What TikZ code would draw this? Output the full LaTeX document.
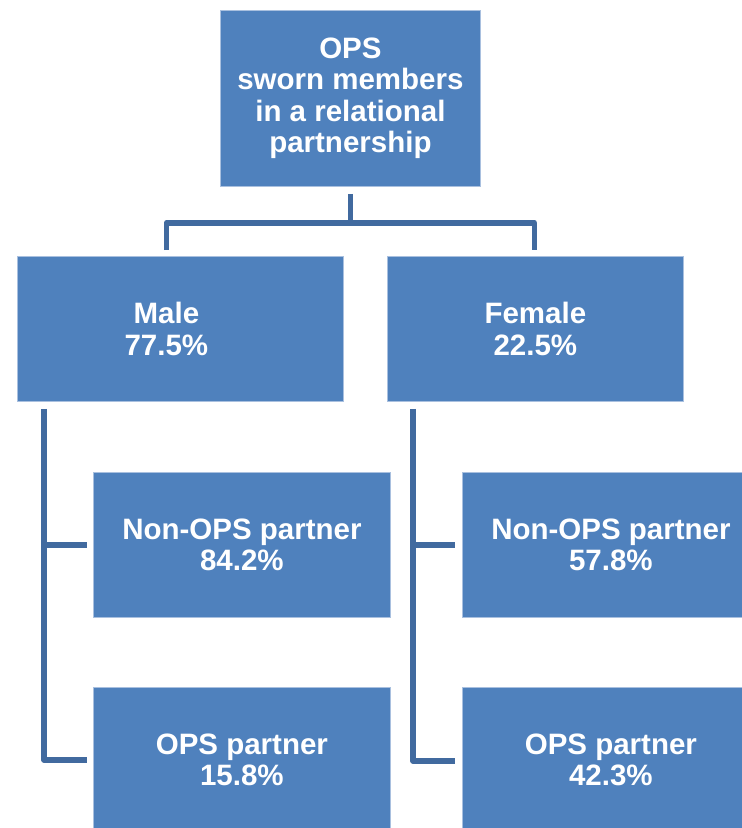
\documentclass[tikz,border=0pt]{standalone}
\usepackage{fontspec}
\setmainfont{Liberation Sans}
\definecolor{boxfill}{HTML}{4F81BD}
\definecolor{boxedge}{HTML}{A9C0DF}
\definecolor{conncol}{HTML}{416A9F}
\begin{document}
\begin{tikzpicture}[x=1pt,y=-1pt,
  boxtext/.style={text=white, font=\bfseries\fontsize{29.5}{31.5}\selectfont,
    align=center, inner sep=0pt},
  box/.style={boxtext, fill=boxfill, draw=boxedge, line width=0.8pt,
    anchor=north west},
  conn/.style={draw=conncol, line width=5.5pt, line join=round, line cap=butt}]
\useasboundingbox (0,0) rectangle (742,828);
\clip (0,0) rectangle (742,828);
\node[box, minimum width=260pt, minimum height=176pt] (top) at (220,10)
  {\rule{0pt}{4pt}OPS\\sworn members\\in a relational\\partnership};
\node[box, minimum width=326pt, minimum height=145pt] (male) at (17,256) {};
\node[boxtext] (maletext) at ([xshift=-14pt]male.center) {Male\\77.5\%};
\node[box, minimum width=296pt, minimum height=145pt] (female) at (387,256)
  {Female\\22.5\%};
\node[box, minimum width=297pt, minimum height=145pt] (mnon) at (93,472)
  {Non-OPS partner\\84.2\%};
\node[box, minimum width=297pt, minimum height=145pt] (mops) at (93,687)
  {OPS partner\\15.8\%};
\node[box, minimum width=297pt, minimum height=145pt] (fnon) at (462,472)
  {Non-OPS partner\\57.8\%};
\node[box, minimum width=297pt, minimum height=145pt] (fops) at (462,687)
  {OPS partner\\42.3\%};
% top to bus
\draw[conn] ([yshift=-7pt]top.south) -- ([yshift=-36pt]top.south) coordinate (bus);
\draw[conn] ([xshift=-14pt,yshift=6pt]male.north) |- (bus) -| ([xshift=-1pt,yshift=6pt]female.north);
% male branch
\draw[conn] ([xshift=27pt,yshift=-7pt]male.south west) |- ([xshift=-6pt]mops.west);
\draw[conn] ([xshift=27pt]male.south west |- mnon.west) -- ([xshift=-6pt]mnon.west);
% female branch
\draw[conn] ([xshift=26pt,yshift=-7pt]female.south west) |- ([xshift=-7pt,yshift=-1pt]fops.west);
\draw[conn] ([xshift=26pt]female.south west |- fnon.west) -- ([xshift=-7pt]fnon.west);
\end{tikzpicture}
\end{document}
